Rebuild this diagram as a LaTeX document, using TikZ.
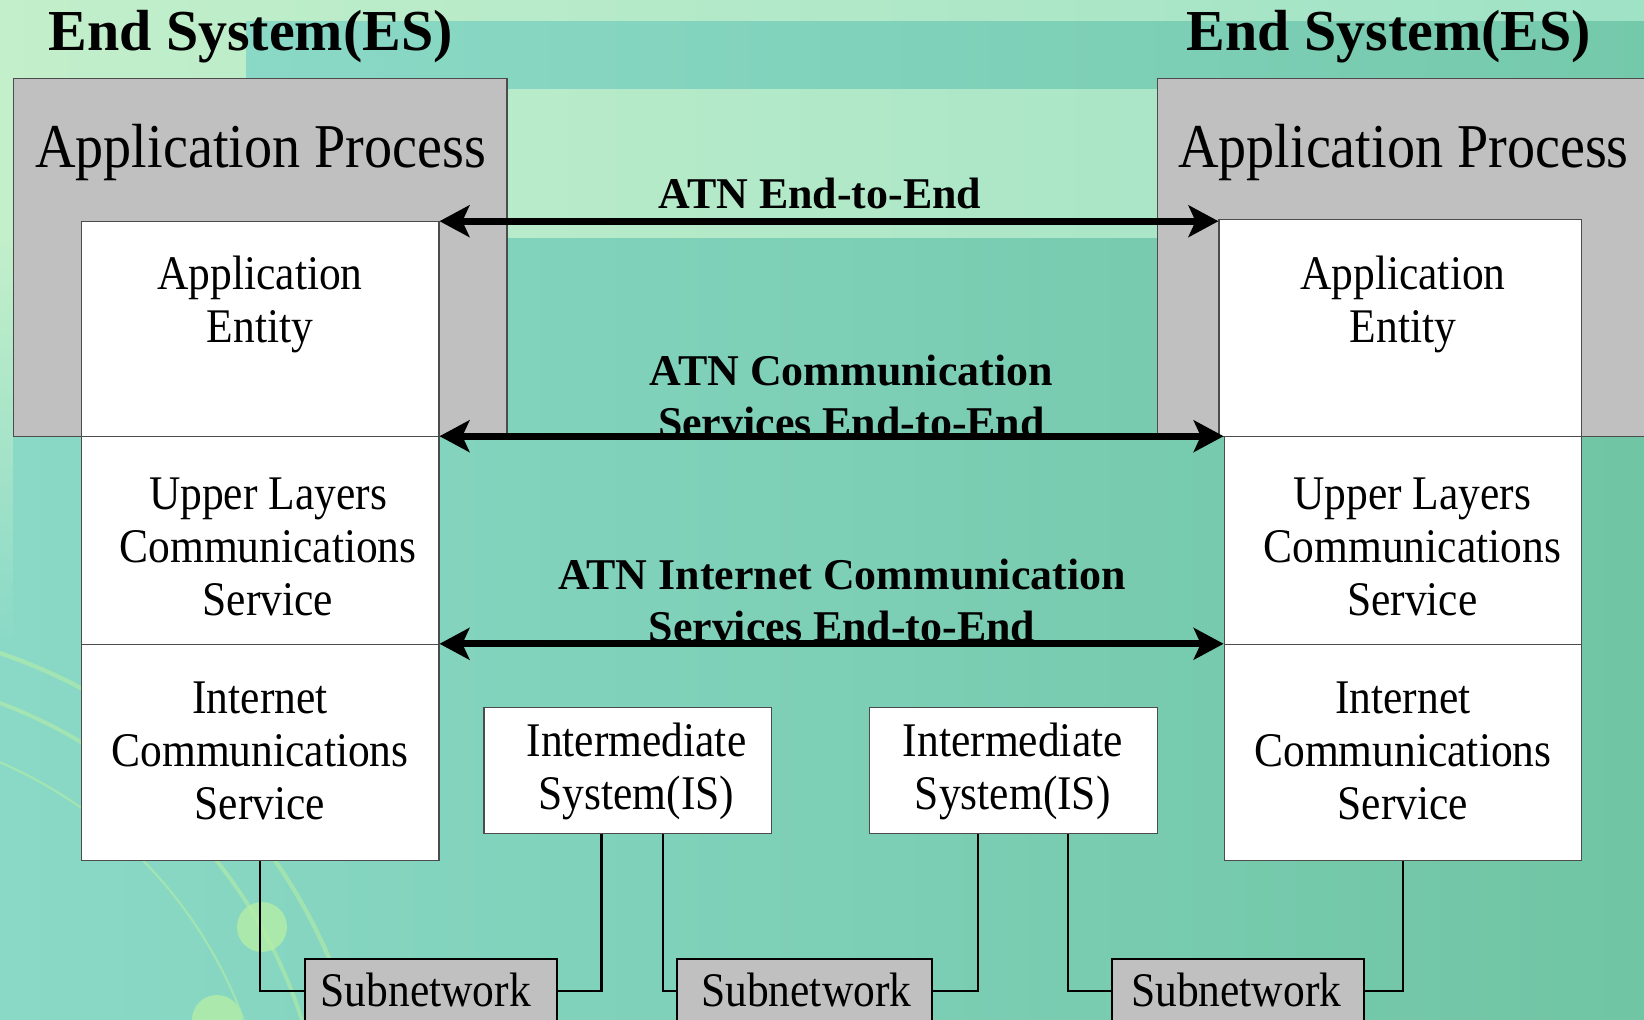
\documentclass[tikz,border=0pt]{standalone}
\usepackage{fontspec}
\setmainfont{Liberation Serif}[FakeStretch=0.9]
\newfontfamily\headfont{Liberation Serif}
\usetikzlibrary{arrows.meta}

\definecolor{bgteal}{HTML}{8AD9C7}
\definecolor{bgdeep}{HTML}{70C5A4}
\definecolor{bglight}{HTML}{C3EFCA}
\definecolor{bgmint}{HTML}{9FE2C6}
\definecolor{apgray}{HTML}{C0C0C0}
\definecolor{swirl}{HTML}{B4EDA6}

\tikzset{
  procbox/.style={draw=black!70, fill=apgray, line width=0.7pt, inner sep=0pt, anchor=north west},
  layer/.style={draw=black!70, fill=white, line width=0.7pt, inner sep=0pt, anchor=north west},
  subnet/.style={draw=black, fill=apgray, line width=1.1pt, inner sep=0pt, anchor=north west},
  boxtext/.style={align=center, font=\fontsize{27.5}{30.2}\selectfont, inner sep=0pt},
  headtext/.style={font=\headfont\bfseries\fontsize{33}{36}\selectfont, inner sep=0pt, anchor=base},
  flowtext/.style={align=center, font=\headfont\bfseries\fontsize{25}{29.6}\selectfont, inner sep=0pt},
  flow/.style={{Stealth[length=17pt,width=18pt,inset=4pt]}-{Stealth[length=17pt,width=18pt,inset=4pt]}, line width=4.2pt},
  wire/.style={line width=1.3pt}
}

\begin{document}
\begin{tikzpicture}[x=0.02cm, y=-0.02cm]
    \pgfmathsetmacro{\pxu}{0.02};
    \useasboundingbox (0,0) rectangle (1644,1020);
    \clip (0,0) rectangle (1644,1020);
    % background
    \shade [left color=bgteal, right color=bgdeep] (0,0) rectangle (1644,1020);
    \shade [left color=bglight, right color=bgmint] (0,0) rectangle (1644,238);
    \shade [left color=bgteal, right color=bgdeep!80!bgteal] (246,22) rectangle (1644,89);
    \shade [top color=bglight, bottom color=bgteal] (0,238) rectangle (12.6,640);
    \foreach \r/\w in {550/2.4, 503/2.2, 448/1.2}
        \draw [swirl, opacity=0.6, line width=\w pt] (-177,1174) circle [radius=\r];
    \fill [swirl, opacity=0.8] (262,927) circle [radius=25];
    \fill [swirl, opacity=0.8] (217,1020) circle [radius=25];

    % end systems
    \node [procbox, minimum width=493.8*\pxu cm, minimum height=358.6*\pxu cm] (apL) at (12.6,77.6) {};
    \node [procbox, minimum width=500*\pxu cm, minimum height=358.6*\pxu cm] (apR) at (1156.5,77.6) {};
    \node [layer, minimum width=357.6*\pxu cm, minimum height=215*\pxu cm] (aeL) at (80.7,221.2) {};
    \node [layer, minimum width=357.6*\pxu cm, minimum height=207.6*\pxu cm] (ulcsL) at (80.7,436.2) {};
    \node [layer, minimum width=357.6*\pxu cm, minimum height=216*\pxu cm] (icsL) at (80.7,643.8) {};
    \node [layer, minimum width=362.7*\pxu cm, minimum height=217.1*\pxu cm] (aeR) at (1218.4,219.1) {};
    \node [layer, minimum width=357.5*\pxu cm, minimum height=207.6*\pxu cm] (ulcsR) at (1223.6,436.2) {};
    \node [layer, minimum width=357.5*\pxu cm, minimum height=216*\pxu cm] (icsR) at (1223.6,643.8) {};

    \node [headtext] (esL) at (250.6,50.3) {End System(ES)};
    \node [headtext] (esR) at (1389,50.3) {End System(ES)};
    \node [boxtext, anchor=base, font=\fontsize{35.5}{40}\selectfont] (apLt) at (260.6,167.8) {Application Process};
    \node [boxtext, anchor=base, font=\fontsize{35.5}{40}\selectfont] (apRt) at (1403.4,167.8) {Application Process};
    \node [boxtext] (aeLt) at (260,304.5) {Application\\Entity};
    \node [boxtext] (aeRt) at (1402.9,304.5) {Application\\Entity};
    \node [boxtext] (ulcsLt) at (268,546.5) {Upper Layers\\Communications\\Service};
    \node [boxtext] (ulcsRt) at (1412.3,546.5) {Upper Layers\\Communications\\Service};
    \node [boxtext] (icsLt) at (260,750.5) {Internet\\Communications\\Service};
    \node [boxtext] (icsRt) at (1402.9,750.5) {Internet\\Communications\\Service};

    % intermediate systems and subnetworks
    \node [layer, minimum width=287.2*\pxu cm, minimum height=125.8*\pxu cm] (is1) at (483.4,706.7) {};
    \node [layer, minimum width=287.3*\pxu cm, minimum height=125.8*\pxu cm] (is2) at (869.2,706.7) {};
    \node [boxtext] (is1t) at (636.4,771.7) {Intermediate\\System(IS)};
    \node [boxtext] (is2t) at (1012.8,771.7) {Intermediate\\System(IS)};
    \node [subnet, minimum width=251.6*\pxu cm, minimum height=63*\pxu cm] (sub1) at (304.1,958.3) {};
    \node [subnet, minimum width=254.8*\pxu cm, minimum height=63*\pxu cm] (sub2) at (676.3,958.3) {};
    \node [subnet, minimum width=251.7*\pxu cm, minimum height=63*\pxu cm] (sub3) at (1111.4,958.3) {};
    \node [boxtext, anchor=base] (sub1t) at (425.7,1006.6) {Subnetwork};
    \node [boxtext, anchor=base] (sub2t) at (806.3,1006.6) {Subnetwork};
    \node [boxtext, anchor=base] (sub3t) at (1236.2,1006.6) {Subnetwork};

    \draw [wire] (icsL.south) |- (sub1.west);
    \draw [wire] (sub1.east) -| ([xshift=-0.52cm]is1.south);
    \draw [wire] ([xshift=0.71cm]is1.south) |- (sub2.west);
    \draw [wire] (sub2.east) -| ([xshift=-0.71cm]is2.south);
    \draw [wire] ([xshift=1.09cm]is2.south) |- (sub3.west);
    \draw [wire] (sub3.east) -| (icsR.south);

    % end-to-end services
    \draw [flow] (aeL.north east) -- (aeL.north east -| aeR.west);
    \draw [flow] (ulcsL.north east) -- (ulcsR.north west);
    \draw [flow] (icsL.north east) -- (icsR.north west);
    \node [flowtext, anchor=base] (e2e) at (820,208.6) {ATN End-to-End};
    \node [flowtext] (cse2e) at (851.4,396.5) {ATN Communication\\Services End-to-End};
    \node [flowtext] (icse2e) at (842,600.9) {ATN Internet Communication\\Services End-to-End};
\end{tikzpicture}
\end{document}
